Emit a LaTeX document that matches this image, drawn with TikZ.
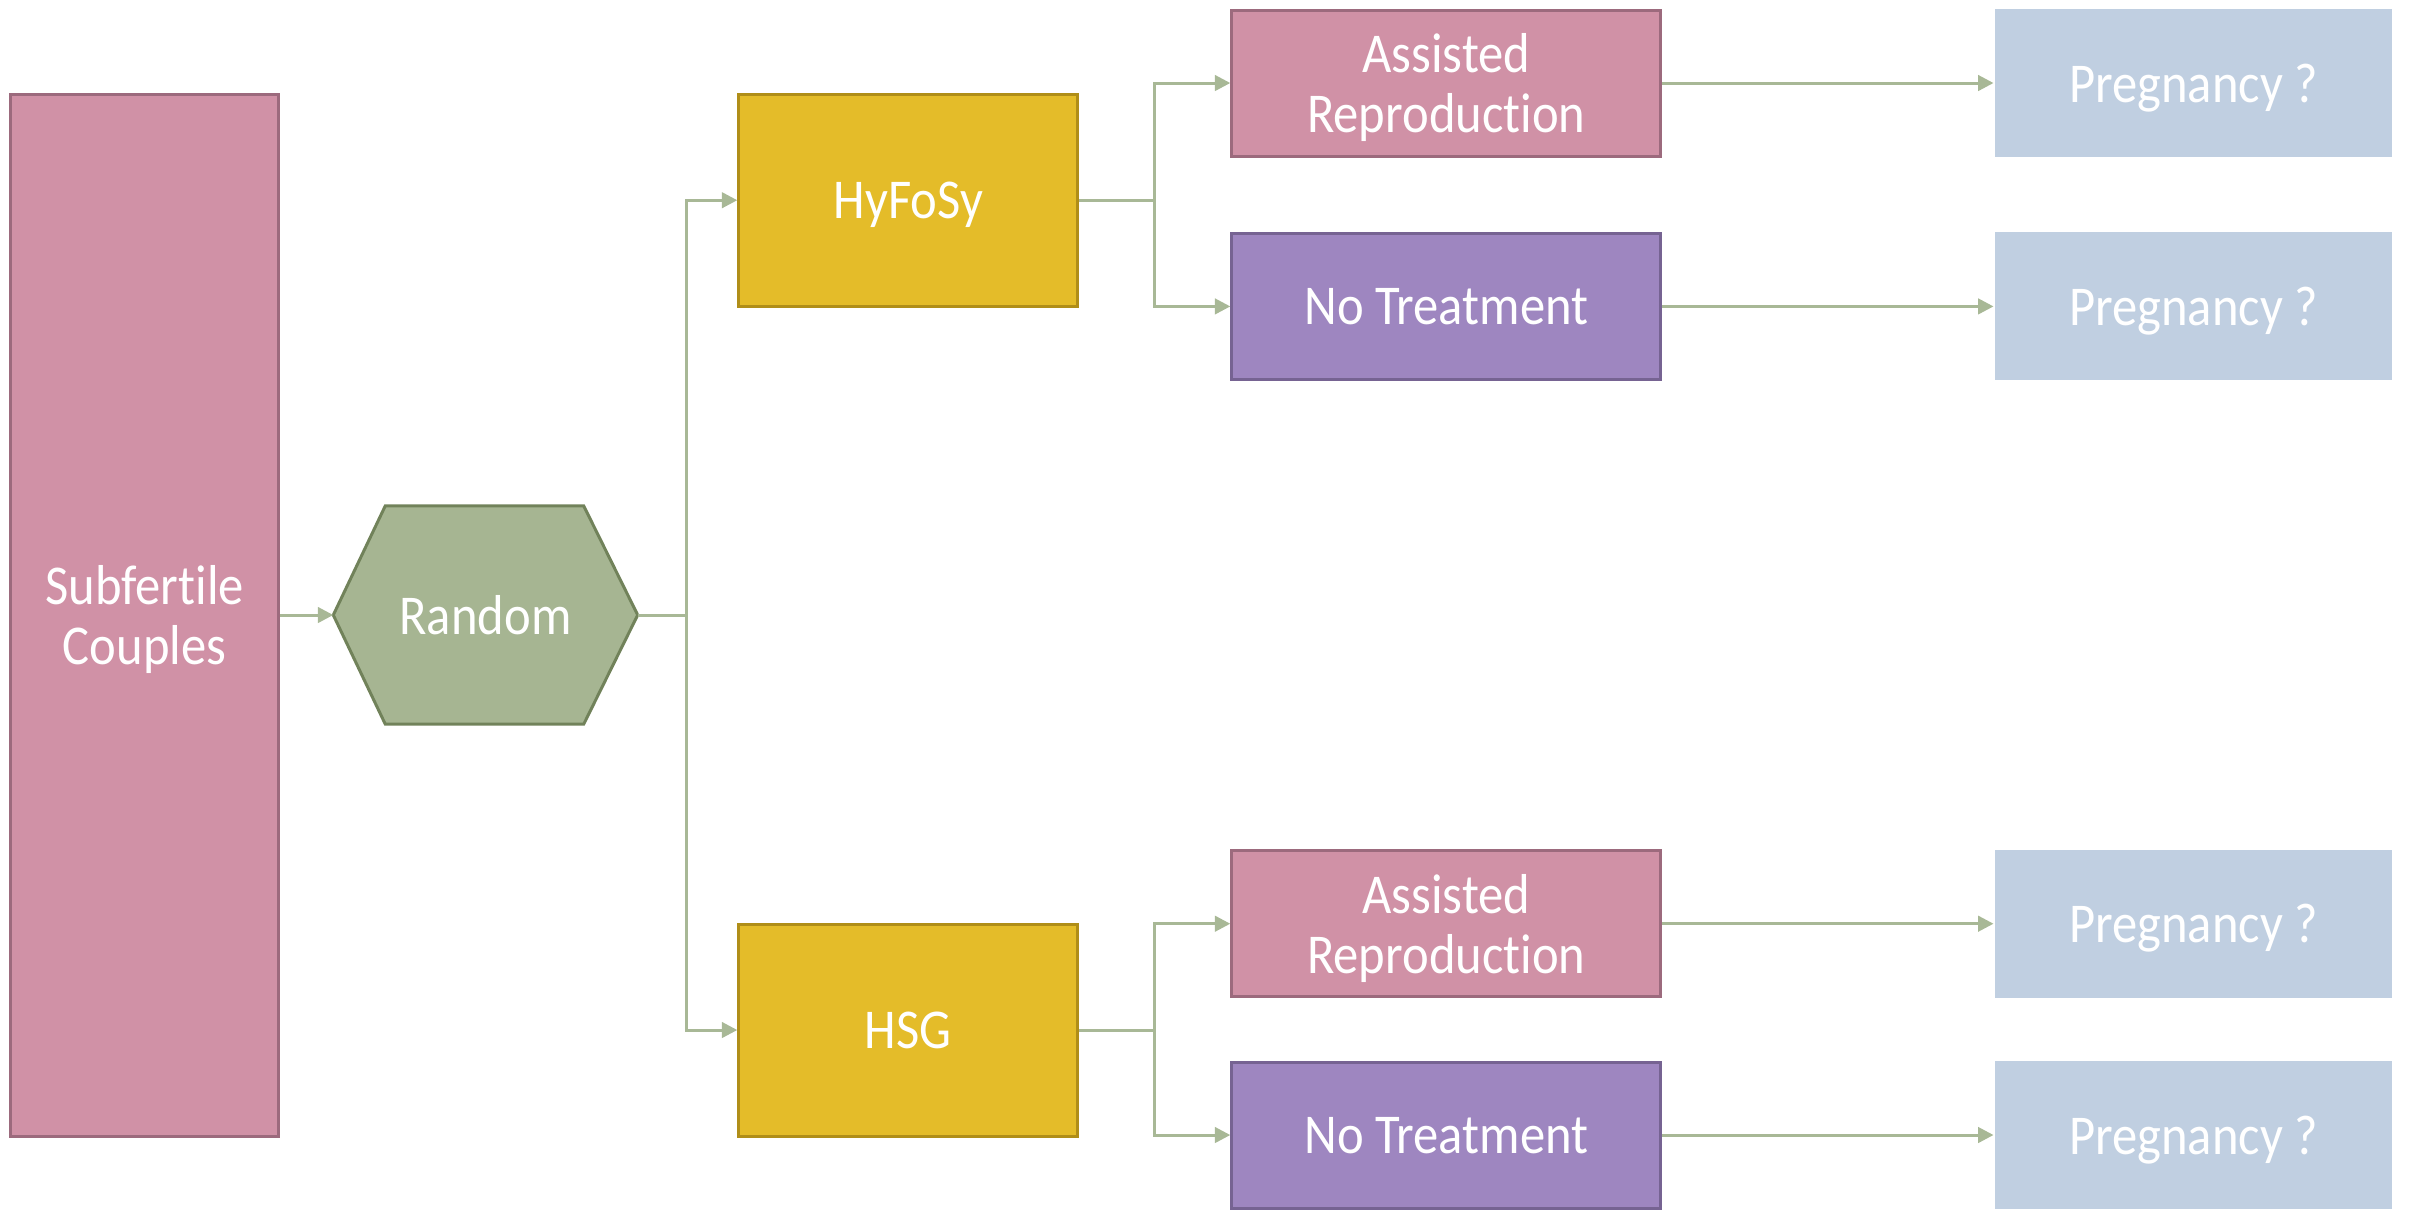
\documentclass[tikz,border=0pt]{standalone}
\usepackage{fontspec}
\setmainfont[Ligatures=NoCommon, FakeStretch=0.9]{Carlito}
\usetikzlibrary{arrows.meta,calc,backgrounds}
\definecolor{pinkfill}{HTML}{D091A6}
\definecolor{pinkline}{HTML}{9C6A7D}
\definecolor{goldfill}{HTML}{E4BC29}
\definecolor{goldline}{HTML}{B08E18}
\definecolor{violetfill}{HTML}{9E86C0}
\definecolor{violetline}{HTML}{766392}
\definecolor{sagefill}{HTML}{A6B592}
\definecolor{sageline}{HTML}{71825A}
\definecolor{skyfill}{HTML}{C0CFE1}
\definecolor{linkcol}{HTML}{A8B896}
\begin{document}
\begin{tikzpicture}[x=0.1mm,y=-0.1mm,
  txt/.style={text=white, align=center, inner sep=0pt, text depth=0pt,
    font=\fontsize{16pt}{17pt}\selectfont},
  box/.style={txt, rectangle, line width=0.85pt},
  pinkbox/.style={box, fill=pinkfill, draw=pinkline},
  goldbox/.style={box, fill=goldfill, draw=goldline, minimum width=33.9mm, minimum height=21.2mm},
  violetbox/.style={box, fill=violetfill, draw=violetline, minimum width=42.9mm, minimum height=14.6mm},
  treatbox/.style={pinkbox, minimum width=42.9mm, minimum height=14.6mm},
  outbox/.style={box, fill=skyfill, minimum width=39.7mm, minimum height=14.8mm},
  conn/.style={draw=linkcol, line width=0.85pt, -{Triangle[length=4.4pt, width=4.4pt, fill=linkcol]}},
  plain/.style={draw=linkcol, line width=0.85pt}]
\useasboundingbox (0,0) rectangle (2414,1210);

% population and randomisation
\node[pinkbox, minimum width=26.8mm, minimum height=104.2mm] (sub) at (144.7,615) {Subfertile\\Couples};
\node[txt, minimum width=30.3mm, minimum height=21.7mm] (rand) at (485.5,615) {Random};
\begin{scope}[on background layer]
  \draw[fill=sagefill, draw=sageline, line width=0.85pt, line join=miter]
    (rand.west) -- ($(rand.north west)+(52,0)$) -- ($(rand.north east)+(-54,0)$)
    -- (rand.east) -- ($(rand.south east)+(-54,0)$) -- ($(rand.south west)+(52,0)$) -- cycle;
\end{scope}

% diagnostic arms
\node[goldbox] (hy) at (908.3,200.2) {HyFoSy};
\node[goldbox] (hsg) at (908.3,1030) {HSG};

% treatment options
\node[treatbox] (ar1) at (1446.3,83) {Assisted\\Reproduction};
\node[violetbox] (nt1) at (1446.3,306.4) {No Treatment};
\node[treatbox] (ar2) at (1446.3,923.7) {Assisted\\Reproduction};
\node[violetbox] (nt2) at (1446.3,1135) {No Treatment};

% outcomes
\node[outbox] (pg1) at (2193.5,83) {Pregnancy ?};
\node[outbox] (pg2) at (2193.5,306.4) {Pregnancy ?};
\node[outbox] (pg3) at (2193.5,923.7) {Pregnancy ?};
\node[outbox] (pg4) at (2193.5,1135) {Pregnancy ?};

% connectors
\draw[conn] (sub.east) -- (rand.west);
\coordinate (split) at (686.6,615);
\draw[plain] (rand.east) -- (split);
\draw[conn] (split) |- (hy.west);
\draw[conn] (split) |- (hsg.west);

\coordinate (hysplit) at (1154.6,200.2);
\draw[plain] (hy.east) -- (hysplit);
\draw[conn] (hysplit) |- (ar1.west);
\draw[conn] (hysplit) |- (nt1.west);

\coordinate (hsgsplit) at (1154.6,1030);
\draw[plain] (hsg.east) -- (hsgsplit);
\draw[conn] (hsgsplit) |- (ar2.west);
\draw[conn] (hsgsplit) |- (nt2.west);

\draw[conn] (ar1.east) -- (pg1.west);
\draw[conn] (nt1.east) -- (pg2.west);
\draw[conn] (ar2.east) -- (pg3.west);
\draw[conn] (nt2.east) -- (pg4.west);
\end{tikzpicture}
\end{document}
